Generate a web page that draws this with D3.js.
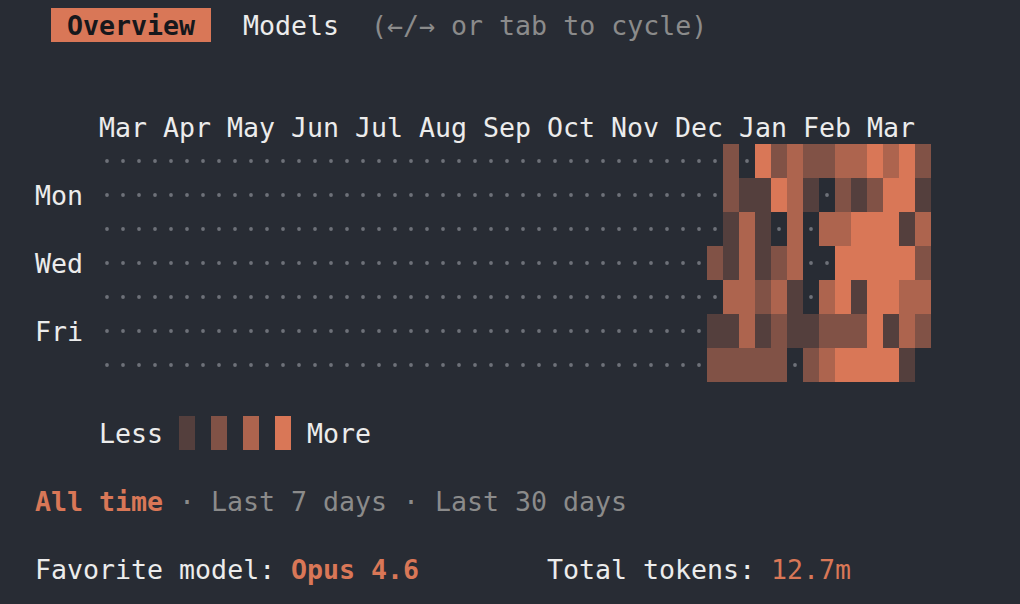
<!DOCTYPE html>
<html>
<head>
<meta charset="utf-8">
<script src="https://cdn.jsdelivr.net/npm/d3@7"></script>
<style>
  html, body { margin: 0; padding: 0; background: #282c34; }
  svg { display: block; }
  text { font-family: "DejaVu Sans Mono", "Liberation Mono", monospace; font-size: 26.6px; }
</style>
</head>
<body>
<svg id="chart" width="1020" height="604"></svg>
<script>
// ---- data ----
const weekCount = 52;
const dayNames = ["Sun", "Mon", "Tue", "Wed", "Thu", "Fri", "Sat"];
const dayLabels = ["Mon", "Wed", "Fri"];
const monthLabels = ["Mar", "Apr", "May", "Jun", "Jul", "Aug", "Sep", "Oct", "Nov", "Dec", "Jan", "Feb", "Mar"];
const monthWeeks = [0, 4, 8, 12, 16, 20, 24, 28, 32, 36, 40, 44, 48];
// activity level (0-4) for each day of the most recent weeks; null = not yet reached
const recentStart = 38;
const recentWeeks = [
  [0, 0, 0, 2, 0, 1, 2],
  [2, 2, 1, 1, 3, 1, 2],
  [0, 1, 3, 3, 3, 3, 2],
  [4, 1, 1, 1, 2, 1, 2],
  [2, 4, 0, 2, 3, 2, 2],
  [3, 3, 3, 3, 1, 1, 0],
  [2, 1, 0, 0, 0, 1, 2],
  [2, 0, 3, 0, 3, 2, 3],
  [3, 2, 3, 4, 4, 2, 4],
  [3, 1, 4, 4, 1, 2, 4],
  [4, 2, 4, 4, 4, 4, 4],
  [3, 4, 4, 4, 4, 1, 4],
  [4, 4, 1, 4, 3, 3, 1],
  [2, 1, 3, 2, 3, 2, null]
];
const legendLevels = [1, 2, 3, 4];
const tabs = ["Overview", "Models"];
const tabHint = "(\u2190/\u2192 or tab to cycle)";
const ranges = ["All time", "Last 7 days", "Last 30 days"];
const favoriteModel = "Opus 4.6";
const totalTokens = "12.7m";

// ---- terminal grid ----
const bg = "#282c34";
const accent = "#d97757";
const fg = "#ececec";
const muted = "#8b8b8b";
const dotColor = "#6e7179";
const charW = 16, lineH = 34, x0 = 3, y0 = 8;
const colX = c => x0 + c * charW;
const lineTop = l => y0 + l * lineH;
const baseline = l => lineTop(l) + 26.5;

const svg = d3.select("#chart");
svg.append("rect").attr("width", 1020).attr("height", 604).attr("fill", bg);

function put(col, line, str, color, weight) {
  return svg.append("text")
    .attr("x", colX(col)).attr("y", baseline(line))
    .attr("fill", color).attr("font-weight", weight || "normal")
    .attr("xml:space", "preserve")
    .text(str);
}

// tab bar
svg.append("rect").attr("x", colX(3)).attr("y", lineTop(0))
  .attr("width", (tabs[0].length + 2) * charW).attr("height", lineH).attr("fill", accent);
put(4, 0, tabs[0], "#16181c", "bold");
put(15, 0, tabs[1], fg);
put(23, 0, tabHint, muted);

// heatmap scales
const gridCol = 6, gridLine = 4;
const x = d3.scaleBand().domain(d3.range(weekCount))
  .range([colX(gridCol), colX(gridCol + weekCount)]).padding(0);
const y = d3.scaleBand().domain(d3.range(7))
  .range([lineTop(gridLine), lineTop(gridLine + 7)]).padding(0);
const color = d3.scaleOrdinal().domain([1, 2, 3, 4])
  .range([1, 2, 3, 4].map(l => d3.interpolateRgb(bg, accent)(l / 4)));

const cells = [];
for (let w = 0; w < weekCount; w++) {
  for (let d = 0; d < 7; d++) {
    const r = w - recentStart;
    const v = r >= 0 ? recentWeeks[r][d] : 0;
    cells.push({ week: w, day: d, level: v });
  }
}

// month labels
svg.append("g").selectAll("text").data(monthLabels).join("text")
  .attr("x", (d, i) => x(monthWeeks[i]))
  .attr("y", baseline(gridLine - 1))
  .attr("fill", fg).text(d => d);

// day labels
svg.append("g").selectAll("text").data(dayLabels).join("text")
  .attr("x", colX(2))
  .attr("y", d => y(dayNames.indexOf(d)) + 26.5)
  .attr("fill", fg).text(d => d);

// empty days as dots
svg.append("g").selectAll("circle").data(cells.filter(c => c.level === 0)).join("circle")
  .attr("cx", d => x(d.week) + x.bandwidth() / 2)
  .attr("cy", d => y(d.day) + y.bandwidth() / 2)
  .attr("r", 1.9).attr("fill", dotColor);

// active days as blocks
svg.append("g").selectAll("rect").data(cells.filter(c => c.level > 0)).join("rect")
  .attr("x", d => x(d.week)).attr("y", d => y(d.day))
  .attr("width", x.bandwidth()).attr("height", y.bandwidth())
  .attr("shape-rendering", "crispEdges")
  .attr("fill", d => color(d.level));

// legend
const legLine = 12;
put(6, legLine, "Less", fg);
svg.append("g").selectAll("rect").data(legendLevels).join("rect")
  .attr("x", (d, i) => colX(11 + i * 2)).attr("y", lineTop(legLine))
  .attr("width", charW).attr("height", lineH)
  .attr("fill", d => color(d));
put(19, legLine, "More", fg);

// range selector
let c = 2;
ranges.forEach((r, i) => {
  if (i > 0) { put(c + 1, 14, "\u00b7", muted); c += 3; }
  put(c, 14, r, i === 0 ? accent : muted, i === 0 ? "bold" : "normal");
  c += r.length;
});

// summary
put(2, 16, "Favorite model:", fg);
put(18, 16, favoriteModel, accent, "bold");
put(34, 16, "Total tokens:", fg);
put(48, 16, totalTokens, accent);
</script>
</body>
</html>
